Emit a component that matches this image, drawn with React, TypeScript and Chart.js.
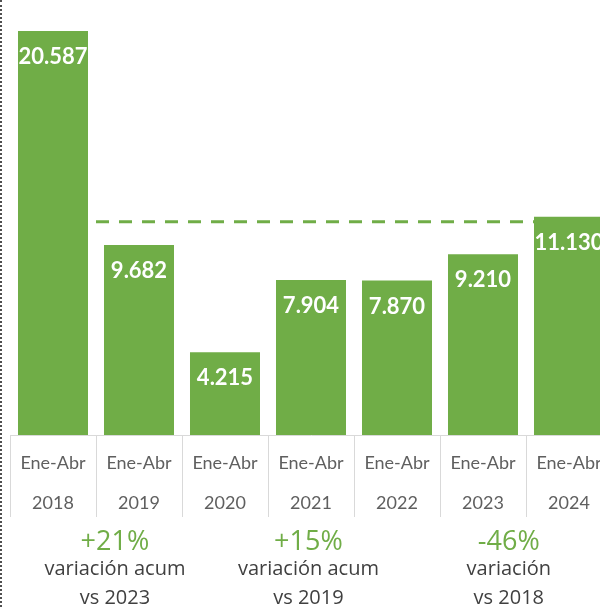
import { useEffect, useRef } from "react";
import { Chart, registerables } from "chart.js";

Chart.register(...registerables);

const periodLabel = "Ene-Abr";
const years = ["2018", "2019", "2020", "2021", "2022", "2023", "2024"];
const values = [20587, 9682, 4215, 7904, 7870, 9210, 11130];
const referenceLevel = 10870;
const referenceSpan = [0.5, 6];
const variationValues = ["+21%", "+15%", "-46%"];
const variationLine1 = ["variación acum", "variación acum", "variación"];
const variationLine2 = ["vs 2023", "vs 2019", "vs 2018"];
const variationPositions = [0.72, 2.97, 5.3];

const GREEN = "#70AD47";

const fmt = (v: number) =>
  Math.round(v)
    .toString()
    .replace(/\B(?=(\d{3})+(?!\d))/g, ".");

const indexToPixel = (chart: any, v: number) => {
  const x = chart.scales.x;
  const p0 = x.getPixelForValue(0);
  const p1 = x.getPixelForValue(1);
  return p0 + v * (p1 - p0);
};

const referencePlugin = {
  id: "referenceLine",
  beforeDatasetsDraw(chart: any) {
    const ctx = chart.ctx;
    const yPix = chart.scales.y.getPixelForValue(referenceLevel);
    ctx.save();
    ctx.strokeStyle = GREEN;
    ctx.lineWidth = 3;
    ctx.setLineDash([13, 10]);
    ctx.beginPath();
    ctx.moveTo(indexToPixel(chart, referenceSpan[0]), yPix);
    ctx.lineTo(indexToPixel(chart, referenceSpan[1]), yPix);
    ctx.stroke();
    ctx.restore();
  },
};

const barLabelsPlugin = {
  id: "barLabels",
  afterDatasetsDraw(chart: any) {
    const ctx = chart.ctx;
    const meta = chart.getDatasetMeta(0);
    ctx.save();
    ctx.font = "bold 22px Lato";
    ctx.fillStyle = "#ffffff";
    ctx.textAlign = "center";
    ctx.textBaseline = "middle";
    meta.data.forEach((el: any, i: number) => {
      ctx.fillText(fmt(values[i]), el.x, el.y + 26);
    });
    ctx.restore();
  },
};

const variationPlugin = {
  id: "variations",
  afterDraw(chart: any) {
    const ctx = chart.ctx;
    const h = chart.height;
    ctx.save();
    ctx.textAlign = "center";
    ctx.textBaseline = "middle";
    variationValues.forEach((t, i) => {
      const x = indexToPixel(chart, variationPositions[i]);
      ctx.font = "27px 'Open Sans'";
      ctx.fillStyle = GREEN;
      ctx.fillText(t, x, h - 65);
      ctx.font = "20px 'Open Sans'";
      ctx.fillStyle = "#404040";
      ctx.fillText(variationLine1[i], x, h - 38);
      ctx.fillText(variationLine2[i], x, h - 9);
    });
    ctx.restore();
  },
};

export default function App() {
  const ref = useRef<HTMLCanvasElement | null>(null);

  useEffect(() => {
    if (!ref.current) return;
    const chart = new Chart(ref.current, {
      type: "bar",
      data: {
        labels: years.map((y) => [periodLabel, y]),
        datasets: [
          {
            data: values,
            backgroundColor: GREEN,
            barPercentage: 0.814,
            categoryPercentage: 1,
          },
        ],
      },
      options: {
        animation: false,
        responsive: false,
        layout: { padding: { left: 10, right: 8, top: 3.4, bottom: 84 } },
        plugins: { legend: { display: false }, tooltip: { enabled: false } },
        scales: {
          x: {
            offset: true,
            grid: {
              offset: true,
              drawOnChartArea: false,
              drawTicks: true,
              tickLength: 82,
              color: "#d9d9d9",
              lineWidth: 1,
            },
            border: { display: true, color: "#d9d9d9" },
            ticks: {
              color: "#5f5f5f",
              font: { family: "Lato", size: 18, lineHeight: 40 / 18 } as any,
              padding: -74,
              maxRotation: 0,
              autoSkip: false,
            },
            title: {
              display: true,
              text: " ",
              font: { size: 10, lineHeight: 1 },
              padding: { top: 64, bottom: 0 },
            },
          },
          y: { display: false, min: 0, max: 22000 },
        },
      },
      plugins: [referencePlugin, barLabelsPlugin, variationPlugin],
    });
    return () => chart.destroy();
  }, []);

  return (
    <div
      style={{
        position: "fixed",
        left: 0,
        top: 0,
        width: 600,
        height: 607,
        overflow: "hidden",
        background: "#fff",
      }}
    >
      <canvas ref={ref} width={620} height={607} style={{ display: "block" }} />
      <div
        style={{
          position: "absolute",
          left: 0,
          top: 0,
          bottom: 0,
          borderLeft: "2px dotted #505050",
        }}
      />
    </div>
  );
}
